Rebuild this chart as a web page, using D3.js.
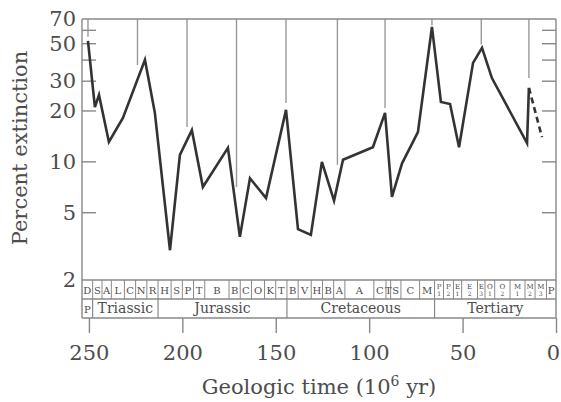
<!DOCTYPE html>
<html>
<head>
<meta charset="utf-8">
<script src="https://cdn.jsdelivr.net/npm/d3@7"></script>
<style>
body { margin: 0; background: #fff; }
text { font-family: "DejaVu Serif", "Liberation Serif", serif; fill: #4d4d4d; }
</style>
</head>
<body>
<div id="chart"></div>
<script>
// extinction curve (end of each stage), age in Myr
var ages = [250.5, 246.8, 244.6, 239.3, 231.8, 220, 214.7, 206.6, 201.3, 194.9,
            189, 175.6, 169.2, 163.8, 155.2, 144.5, 138.1, 131.2, 125.3, 118.8,
            114, 98, 91.5, 87.8, 82.4, 73.9, 66.4, 61.6, 56.7, 51.9,
            44.4, 39.6, 34.3, 15.5, 14.5];
var extinction = [51.9, 21.1, 24.9, 13.1, 18.2, 40.1, 19.5, 3.0, 11.0, 15.4,
                  7.1, 12.1, 3.6, 8.0, 6.1, 20.3, 4.0, 3.7, 10.0, 5.9,
                  10.3, 12.2, 19.5, 6.2, 9.8, 15.0, 62.8, 22.6, 22.0, 12.2,
                  38.5, 47.2, 31.3, 12.9, 27.4];
// dashed last segment
var dashAges = [14.5, 7.5];
var dashValues = [27.4, 14.0];

// 26 Myr periodicity lines hanging from the top
var periodAges = [250.5, 224, 197.5, 171, 144.5, 117, 91.5, 66.4, 40, 14.5];
var periodEnds = [55, 37.4, 16.1, 7.1, 22.3, 9.6, 20.8, 64, 49.5, 31.3];

// stage strip
var stageBounds = [253.7, 248, 243, 238, 231, 225, 219, 213, 206, 200, 194, 188,
                   175, 169, 163, 156, 150, 144, 138, 131, 125, 119, 113, 97.5,
                   91, 88.5, 83, 73, 65, 60.2, 54.9, 50.5, 42, 38, 32.8, 24.6,
                   16.6, 11.2, 5.1, 0];
var stageNames = ["D","S","A","L","C","N","R",
                  "H","S","P","T","B","B","C","O","K","T",
                  "B","V","H","B","A","A","C","T","S","C","M",
                  "P1","P2","E1","E2","E3","O1","O2","M1","M2","M3","P"];
var periodBounds = [253.7, 248, 213, 144, 65, 0];
var periodNames = ["P", "Triassic", "Jurassic", "Cretaceous", "Tertiary"];

var yTicks = [5, 10, 20, 30, 40, 50, 60];
var yLabels = [2, 5, 10, 20, 30, 50, 70];
var xTicks = [250, 200, 150, 100, 50, 0];

var width = 561, height = 402;
var plotL = 82, plotR = 556, plotT = 19, plotB = 280;
var row1 = 299, row2 = 318;
var tickLen = 14;
var frameColor = "#888";

var x = d3.scaleLinear().domain([253.7, 0]).range([plotL, plotR]);
var y = d3.scaleLog().domain([2, 70]).range([plotB, plotT]);

var svg = d3.select("#chart").append("svg")
    .attr("width", width)
    .attr("height", height);

// periodicity lines
svg.append("g").selectAll("line")
    .data(periodAges)
  .enter().append("line")
    .attr("x1", function(d) { return x(d); })
    .attr("x2", function(d) { return x(d); })
    .attr("y1", plotT)
    .attr("y2", function(d, i) { return y(periodEnds[i]); })
    .attr("stroke", "#999")
    .attr("stroke-width", 1.4);

// y ticks inside, both sides
svg.append("g").selectAll("line")
    .data(yTicks)
  .enter().append("line")
    .attr("x1", plotL).attr("x2", plotL + tickLen)
    .attr("y1", function(d) { return y(d); })
    .attr("y2", function(d) { return y(d); })
    .attr("stroke", frameColor).attr("stroke-width", 1.4);
svg.append("g").selectAll("line")
    .data(yTicks)
  .enter().append("line")
    .attr("x1", plotR - tickLen).attr("x2", plotR)
    .attr("y1", function(d) { return y(d); })
    .attr("y2", function(d) { return y(d); })
    .attr("stroke", frameColor).attr("stroke-width", 1.4);

// frame and strip lines
var frame = svg.append("g").attr("stroke", frameColor).attr("stroke-width", 1.4);
frame.append("line").attr("x1", plotL).attr("x2", plotR).attr("y1", plotT).attr("y2", plotT);
frame.append("line").attr("x1", plotL).attr("x2", plotL).attr("y1", plotT).attr("y2", row2);
frame.append("line").attr("x1", plotR).attr("x2", plotR).attr("y1", plotT).attr("y2", row2);
[plotB, row1, row2].forEach(function(yy) {
  frame.append("line").attr("x1", plotL).attr("x2", plotR).attr("y1", yy).attr("y2", yy);
});

// stage boxes
svg.append("g").selectAll("line")
    .data(stageBounds.slice(1, -1))
  .enter().append("line")
    .attr("x1", function(d) { return x(d); })
    .attr("x2", function(d) { return x(d); })
    .attr("y1", plotB).attr("y2", row1)
    .attr("stroke", frameColor).attr("stroke-width", 1);

var stageLbl = svg.append("g").selectAll("text")
    .data(stageNames)
  .enter().append("text")
    .attr("text-anchor", "middle")
    .attr("x", function(d, i) { return (x(stageBounds[i]) + x(stageBounds[i + 1])) / 2; });
stageLbl.each(function(d) {
  var t = d3.select(this);
  if (d.length > 1) {
    t.append("tspan").attr("x", t.attr("x")).attr("y", plotB + 9)
      .style("font-size", "7px").text(d[0]);
    t.append("tspan").attr("x", t.attr("x")).attr("y", plotB + 16)
      .style("font-size", "6px").text(d[1]);
  } else {
    t.attr("y", plotB + 14).style("font-size", "10px").text(d);
  }
});

// period boxes
svg.append("g").selectAll("line")
    .data(periodBounds.slice(1, -1))
  .enter().append("line")
    .attr("x1", function(d) { return x(d); })
    .attr("x2", function(d) { return x(d); })
    .attr("y1", row1).attr("y2", row2)
    .attr("stroke", frameColor).attr("stroke-width", 1.2);

svg.append("g").selectAll("text")
    .data(periodNames)
  .enter().append("text")
    .attr("text-anchor", "middle")
    .attr("x", function(d, i) { return (x(periodBounds[i]) + x(periodBounds[i + 1])) / 2; })
    .attr("y", row2 - 5)
    .style("font-size", function(d) { return d.length > 1 ? "14px" : "10px"; })
    .text(function(d) { return d; });

// extinction curve
var line = d3.line()
    .x(function(d) { return x(d[0]); })
    .y(function(d) { return y(d[1]); });

svg.append("path")
    .datum(d3.zip(ages, extinction))
    .attr("d", line)
    .attr("fill", "none")
    .attr("stroke", "#333")
    .attr("stroke-width", 2.6)
    .attr("stroke-linejoin", "miter");

svg.append("path")
    .datum(d3.zip(dashAges, dashValues))
    .attr("d", line)
    .attr("fill", "none")
    .attr("stroke", "#333")
    .attr("stroke-width", 2.6)
    .attr("stroke-dasharray", "6,4");

// x axis below the strip
var xAxis = svg.append("g")
    .attr("transform", "translate(0," + row2 + ")")
    .call(d3.axisBottom(x).tickValues(xTicks).tickSize(15).tickPadding(12));
xAxis.select(".domain").remove();
xAxis.selectAll("line").attr("stroke", frameColor).attr("stroke-width", 1.4);
xAxis.selectAll("text").style("font-size", "21px").style("font-family", "DejaVu Serif").attr("fill", "#4d4d4d")
    .attr("dx", function(d) { return d === 0 ? -3 : 0; });

// y labels
var yAxis = svg.append("g")
    .attr("transform", "translate(" + plotL + ",0)")
    .call(d3.axisLeft(y).tickValues(yLabels).tickSize(0).tickPadding(6).tickFormat(d3.format("d")));
yAxis.select(".domain").remove();
yAxis.selectAll("text").style("font-size", "21px").style("font-family", "DejaVu Serif").attr("fill", "#4d4d4d");

// axis titles
svg.append("text")
    .attr("transform", "translate(27,148) rotate(-90)")
    .attr("text-anchor", "middle")
    .style("font-size", "21px")
    .text("Percent extinction");

var xt = svg.append("text")
    .attr("x", 319).attr("y", 394)
    .attr("text-anchor", "middle")
    .style("font-size", "21px");
xt.append("tspan").text("Geologic time (10");
xt.append("tspan").attr("dy", -8).style("font-size", "14px").text("6");
xt.append("tspan").attr("dy", 8).text(" yr)");
</script>
</body>
</html>
